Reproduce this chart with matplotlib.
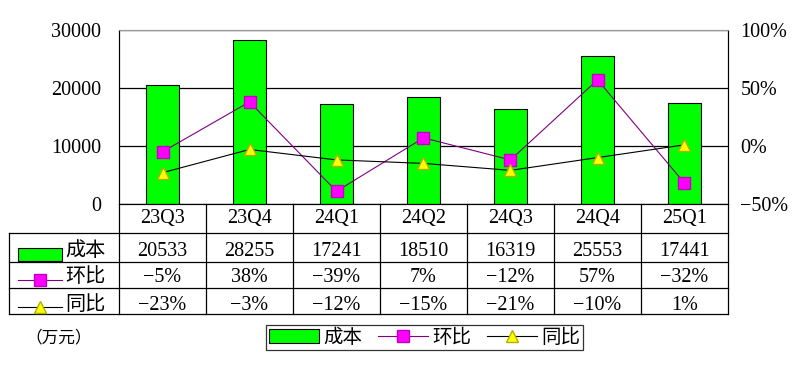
import matplotlib
matplotlib.use("Agg")
import matplotlib.pyplot as plt
import numpy as np
from matplotlib.transforms import blended_transform_factory
from matplotlib.patches import Rectangle, Patch
from matplotlib.lines import Line2D

plt.rcParams['font.family'] = ['Liberation Serif', 'Noto Sans CJK SC']

quarters = ['23Q3', '23Q4', '24Q1', '24Q2', '24Q3', '24Q4', '25Q1']
cost = [20533, 28255, 17241, 18510, 16319, 25553, 17441]
qoq = [-5, 38, -39, 7, -12, 57, -32]      # 环比 %
yoy = [-23, -3, -12, -15, -21, -10, 1]    # 同比 %
row_names = ['成本', '环比', '同比']

GREEN = '#00FF00'
MAGENTA = '#FF00FF'
NUM_FS = 14.5

W, H = 800, 368
fig = plt.figure(figsize=(W / 100, H / 100), dpi=100)
ax = fig.add_axes([119 / W, 1 - 204 / H, 609 / W, 174 / H])

x = np.arange(len(quarters))
ax.bar(x, cost, width=0.38, color=GREEN, edgecolor='black', lw=0.8, zorder=2)
ax.set_xlim(-0.5, len(quarters) - 0.5)
ax.set_ylim(0, 30000)
ax.set_yticks([0, 10000, 20000, 30000])
ax.set_xticks([])
ax.yaxis.grid(True, color='black', lw=0.9)
ax.set_axisbelow(True)
ax.tick_params(axis='y', length=0, pad=13, labelsize=NUM_FS)
for s in ['left', 'bottom', 'right']:
    ax.spines[s].set_color('black')
ax.spines['top'].set_color('#999999')

ax2 = ax.twinx()
ax2.set_ylim(-50, 100)
ax2.set_yticks([-50, 0, 50, 100])
ax2.set_yticklabels([f"{v}%".replace('-', '−') for v in [-50, 0, 50, 100]])
ax2.tick_params(axis='y', length=0, pad=9, labelsize=NUM_FS)
ax2.spines['top'].set_color('#999999')
ax2.spines['right'].set_color('black')
ax2.plot(x, qoq, color='#800080', lw=0.8, marker='s', ms=9,
         mfc=MAGENTA, mec='#C000C0', zorder=3)
ax2.plot(x, yoy, color='black', lw=0.8, marker='^', ms=9,
         mfc='#FFFF00', mec='#B0B000', zorder=3)

# data table under the chart
tr = blended_transform_factory(ax.transData, ax.transAxes)
def ya(py):
    return (204 - py) / 174
def xd(px):
    return -0.5 + (px - 119) / 87

xl = xd(9)
for py in [233, 262, 288, 314]:
    ax.plot([xl, 6.5], [ya(py), ya(py)], color='black', lw=0.9,
            transform=tr, clip_on=False)
for i in range(len(quarters) + 1):
    ax.plot([i - 0.5, i - 0.5], [0, ya(314)], color='black', lw=0.9,
            transform=tr, clip_on=False)
ax.plot([xl, xl], [ya(233), ya(314)], color='black', lw=0.9,
        transform=tr, clip_on=False)

def pct(v):
    return f"{v}%".replace('-', '−')

for i, q in enumerate(quarters):
    ax.text(i, ya(219), q, ha='center', va='center', fontsize=NUM_FS, transform=tr)
    ax.text(i, ya(251.5), str(cost[i]), ha='center', va='center', fontsize=NUM_FS, transform=tr)
    ax.text(i, ya(278), pct(qoq[i]), ha='center', va='center', fontsize=NUM_FS, transform=tr)
    ax.text(i, ya(305), pct(yoy[i]), ha='center', va='center', fontsize=NUM_FS, transform=tr)

# row labels with legend keys
ax.add_patch(Rectangle((xd(18), ya(261)), xd(62) - xd(18), ya(248) - ya(261),
                       facecolor=GREEN, edgecolor='black', lw=0.8,
                       transform=tr, clip_on=False))
ax.plot([xd(18), xd(62)], [ya(280), ya(280)], color='#800080', lw=0.8,
        transform=tr, clip_on=False)
ax.plot([xd(40)], [ya(280)], marker='s', ms=9, mfc=MAGENTA, mec='#C000C0',
        transform=tr, clip_on=False)
ax.plot([xd(18), xd(62)], [ya(307), ya(307)], color='black', lw=0.8,
        transform=tr, clip_on=False)
ax.plot([xd(40)], [ya(307)], marker='^', ms=9, mfc='#FFFF00', mec='#B0B000',
        transform=tr, clip_on=False)
for name, py in zip(row_names, [251.5, 278, 305]):
    ax.text(xd(65), ya(py), name, ha='left', va='center', fontsize=14.5, transform=tr)

fig.text(25 / W, 1 - 338 / H, '（万元）', ha='left', va='center', fontsize=12)

handles = [Patch(facecolor=GREEN, edgecolor='black', lw=0.8),
           Line2D([], [], color='#800080', lw=0.8, marker='s', ms=9,
                  mfc=MAGENTA, mec='#C000C0'),
           Line2D([], [], color='black', lw=0.8, marker='^', ms=9,
                  mfc='#FFFF00', mec='#B0B000')]
leg = fig.legend(handles, row_names, loc='center', ncol=3,
                 bbox_to_anchor=(424.5 / W, 1 - 337.5 / H),
                 fontsize=14, frameon=True, fancybox=False, edgecolor='black',
                 handlelength=2.6, handletextpad=0.2, columnspacing=0.8,
                 borderpad=0.15, borderaxespad=0)
leg.get_frame().set_linewidth(0.9)

fig.savefig('out.png', dpi=100, facecolor='white')
